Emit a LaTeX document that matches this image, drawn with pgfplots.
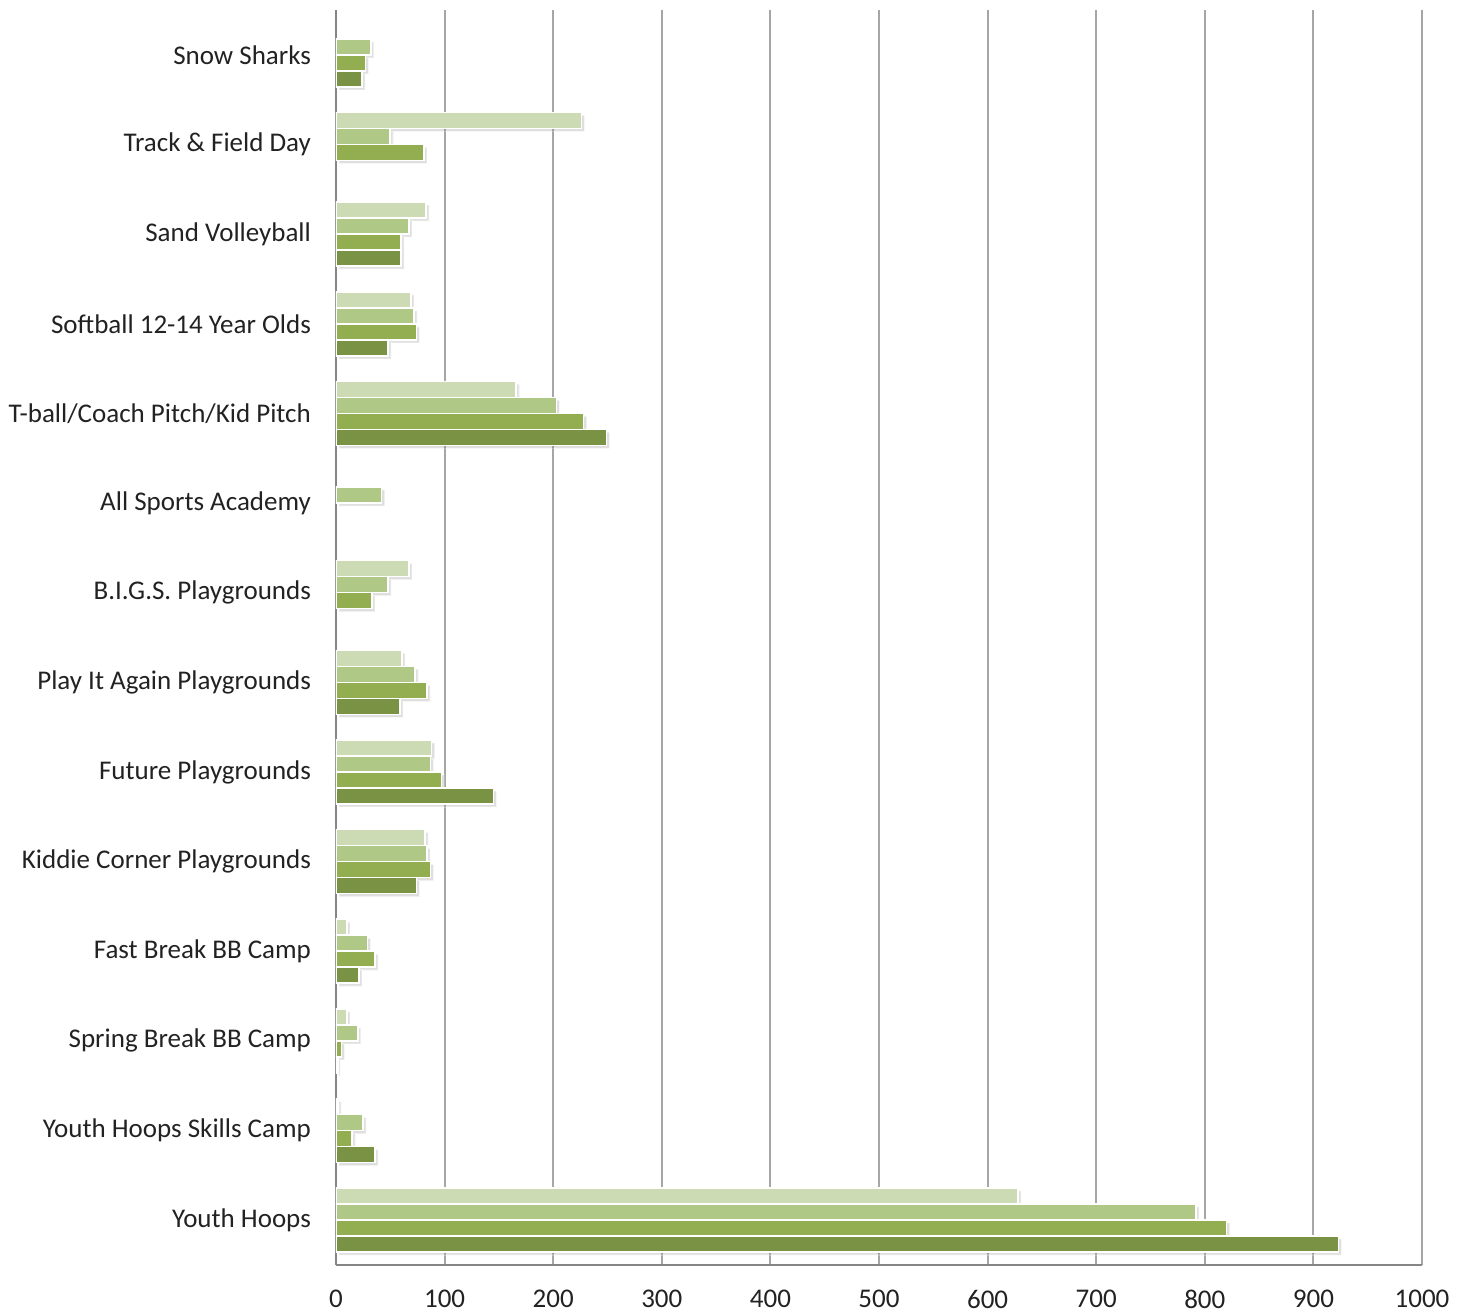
\documentclass[border=0pt]{standalone}
\usepackage{fontspec}
\setmainfont{Carlito}
\usepackage{pgfplots}
\pgfplotsset{compat=1.18}
\usetikzlibrary{shadows}

\definecolor{serA}{HTML}{CDDBB5}
\definecolor{serB}{HTML}{B0C886}
\definecolor{serC}{HTML}{93AE51}
\definecolor{serD}{HTML}{799243}
\definecolor{gridgray}{HTML}{A6A6A6}
\definecolor{axisgray}{HTML}{868686}
\definecolor{txt}{HTML}{222222}

\begin{document}
\begin{tikzpicture}
\path[use as bounding box] (-168pt,-24.5pt) rectangle (565pt,632.5pt);
\begin{axis}[
    scale only axis,
    width=543pt, height=627.5pt,
    xbar=0pt, bar width=8pt,
    xmin=0, xmax=1000,
    ymin=-0.5, ymax=13.5,
    y dir=reverse,
    xtick={0,100,...,1000},
    ytick={0,...,13},
    yticklabels={Snow Sharks, Track \& Field Day, Sand Volleyball,
        Softball 12-14 Year Olds, T-ball/Coach Pitch/Kid Pitch,
        All Sports Academy, B.I.G.S. Playgrounds, Play It Again Playgrounds,
        Future Playgrounds, Kiddie Corner Playgrounds, Fast Break BB Camp,
        Spring Break BB Camp, Youth Hoops Skills Camp, Youth Hoops},
    xmajorgrids=true,
    grid style={gridgray, line width=1pt},
    major tick length=0pt,
    axis line style={axisgray, line width=1.2pt},
    axis x line*=bottom,
    axis y line*=left,
    /pgf/number format/assume math mode=true,
    /pgf/number format/1000 sep={},
    tick label style={font=\fontsize{13.5}{16}\selectfont, text=txt},
    yticklabel style={xshift=-9pt},
    xticklabel style={yshift=-9pt},
    every axis plot/.append style={draw=white, line width=0.8pt,
        drop shadow={shadow xshift=1.5pt, shadow yshift=-1.5pt, opacity=0.25}},
]
\addplot[fill=serA, bar shift=12pt] coordinates {
    (226,1) (83,2) (69,3) (166,4) (67,6) (61,7) (88,8) (82,9)
    (10,10) (10,11) (2,12) (628,13)};
\addplot[fill=serB, bar shift=4pt] coordinates {
    (32,0) (50,1) (67,2) (72,3) (203,4) (42,5) (48,6) (73,7) (87,8) (84,9)
    (29,10) (20,11) (25,12) (792,13)};
\addplot[fill=serC, bar shift=-4pt] coordinates {
    (27,0) (81,1) (60,2) (74,3) (228,4) (33,6) (84,7) (97,8) (87,9)
    (36,10) (5,11) (15,12) (820,13)};
\addplot[fill=serD, bar shift=-12pt] coordinates {
    (24,0) (60,2) (48,3) (249,4) (59,7) (145,8) (74,9)
    (21,10) (1,11) (36,12) (923,13)};
\end{axis}
\end{tikzpicture}
\end{document}
